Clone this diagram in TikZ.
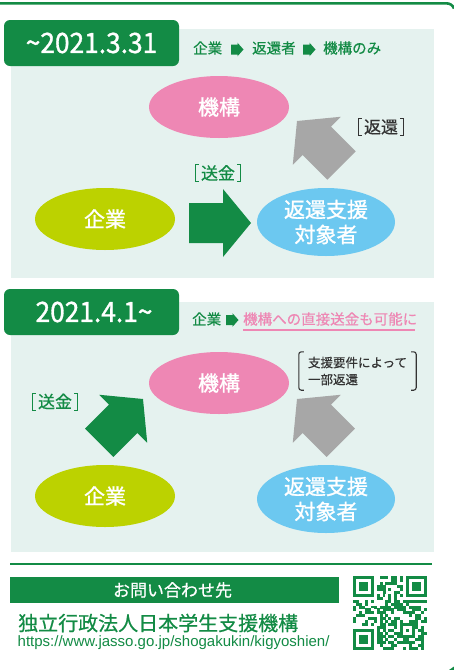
\documentclass[tikz,border=0pt]{standalone}
\usepackage{fontspec}
\setmainfont{Noto Sans CJK JP}
\newfontfamily\jpfont{Noto Sans CJK JP}
\newfontfamily\jpmed[FakeBold=1.2]{Noto Sans CJK JP}
\newfontfamily\jpsemi[FakeBold=0.5]{Noto Sans CJK JP}
\newfontfamily\urlfont{Liberation Sans}
\usetikzlibrary{shapes.geometric}
\definecolor{jgreen}{HTML}{138B45}
\definecolor{jpink}{HTML}{EE87B4}
\definecolor{jyel}{HTML}{BCD200}
\definecolor{jblue}{HTML}{6CC8F0}
\definecolor{jgray}{HTML}{A7A7A7}
\definecolor{jmint}{HTML}{E5F2EF}
\definecolor{jdark}{HTML}{333333}
\newcommand\blockarrow[4]{\fill[#1,shift={#2},rotate=#3] (0,0) -- (-28,-34) -- (-28,-20) -- (-#4,-20) -- (-#4,20) -- (-28,20) -- (-28,34) -- cycle;}
\newcommand\minarrow[1]{\fill[jgreen,shift={#1}] (0,-5) -- (6.5,-5) -- (6.5,-6.8) -- (12.5,0) -- (6.5,6.8) -- (6.5,5) -- (0,5) -- cycle;}
\begin{document}
\begin{tikzpicture}[x=1pt,y=-1pt,
  oval/.style={ellipse, fill=#1, text=white, inner sep=0pt, align=center,
    minimum width=140pt, minimum height=62pt, font=\jpmed\fontsize{21}{25}\selectfont},
  titlebox/.style={fill=jgreen, rounded corners=6pt},
  titletext/.style={text=white, inner sep=0pt, font=\jpmed\fontsize{28}{30}\selectfont},
  sub/.style={text=jgreen, inner sep=0pt, anchor=west, font=\jpsemi\fontsize{14.5}{16}\selectfont},
  brlabel/.style={inner xsep=5pt, inner ysep=0.5pt, font=\jpsemi\fontsize{17}{19}\selectfont},
  brk/.style={line width=0.8pt}
]
\useasboundingbox (0,0) rectangle (454,670);
\fill[white] (0,0) rectangle (454,670);
% frame lines
\draw[jgreen, line width=2.6pt] (0,3.3) -- (446,3.3) .. controls (450,3.3) and (452.5,5) .. (454,8.5);
\fill[jgreen] (449,670) -- (454,666.5) -- (454,670) -- cycle;

% ---------- panel 1 ----------
\fill[jmint] (11,29) rectangle (434,278);
\fill[titlebox] (4,20) rectangle (179,66);
\node[titletext] (d1) at (91.5,43) {\scalebox{0.94}[1]{\textasciitilde 2021.3.31}};
\node[sub] (s1a) at (193,48) {企業};
\minarrow{(231,49.5)}
\node[sub] (s1b) at (252,48) {返還者};
\minarrow{(303,49.5)}
\node[sub] (s1c) at (323,48) {機構のみ};

\node[oval=jpink] (k1) at (219,107) {機構};
\node[oval=jyel] (c1) at (105,219) {企業};
\node[oval=jblue, minimum width=138pt, minimum height=68pt] (r1) at (326,222) {返還支援\\対象者};

\blockarrow{jgreen}{(251,223)}{0}{62}
\blockarrow{jgray}{(297,121)}{135}{63}

\node[brlabel, text=jgreen] (l1) at (218,173) {送金};
\draw[brk, jgreen] ([xshift=3pt]l1.north west) -- (l1.north west) -- (l1.south west) -- ([xshift=3pt]l1.south west);
\draw[brk, jgreen] ([xshift=-3pt]l1.north east) -- (l1.north east) -- (l1.south east) -- ([xshift=-3pt]l1.south east);
\node[brlabel, text=jdark] (l2) at (381,127) {返還};
\draw[brk, jdark] ([xshift=3pt]l2.north west) -- (l2.north west) -- (l2.south west) -- ([xshift=3pt]l2.south west);
\draw[brk, jdark] ([xshift=-3pt]l2.north east) -- (l2.north east) -- (l2.south east) -- ([xshift=-3pt]l2.south east);

% ---------- panel 2 ----------
\fill[jmint] (11,302) rectangle (434,552);
\fill[titlebox] (4,289) rectangle (179,335);
\node[titletext] (d2) at (94,312) {\scalebox{0.94}[1]{2021.4.1\textasciitilde}};
\node[sub] (s2a) at (192,319) {企業};
\minarrow{(226,320)}
\node[sub, text=jpink] (s2b) at (243,319) {機構への直接送金も可能に};
\draw[jpink, line width=1.6pt] (243,330) -- (415,330);

\node[oval=jpink] (k2) at (219,383) {機構};
\node[oval=jyel] (c2) at (105,496) {企業};
\node[oval=jblue, minimum width=138pt, minimum height=68pt] (r2) at (326,499) {返還支援\\対象者};

\blockarrow{jgreen}{(143,399)}{45}{62}
\blockarrow{jgray}{(297,399)}{135}{62}

\node[brlabel, text=jgreen] (l3) at (55,401.5) {送金};
\draw[brk, jgreen] ([xshift=3pt]l3.north west) -- (l3.north west) -- (l3.south west) -- ([xshift=3pt]l3.south west);
\draw[brk, jgreen] ([xshift=-3pt]l3.north east) -- (l3.north east) -- (l3.south east) -- ([xshift=-3pt]l3.south east);
\node[text=jdark, inner xsep=9pt, inner ysep=0pt, minimum height=38pt, align=left,
      font=\jpsemi\fontsize{12.5}{17}\selectfont] (l4) at (357.5,371) {支援要件によって\\一部返還};
\draw[jdark, line width=1.1pt, rounded corners=2.5pt] ([xshift=5pt]l4.north west) -- (l4.north west) -- (l4.south west) -- ([xshift=5pt]l4.south west);
\draw[jdark, line width=1.1pt, rounded corners=2.5pt] ([xshift=-5pt]l4.north east) -- (l4.north east) -- (l4.south east) -- ([xshift=-5pt]l4.south east);

% ---------- contact ----------
\draw[jgreen, line width=1.4pt] (10,564) -- (432,564);
\fill[jgreen] (10,577) rectangle (339,603);
\node[text=white, inner sep=0pt, font=\jpsemi\fontsize{17}{19}\selectfont] (ct) at (172.5,590) {お問い合わせ先};
\node[text=jgreen, inner sep=0pt, anchor=west, font=\jpsemi\fontsize{20}{22}\selectfont] (org) at (18,623) {独立行政法人日本学生支援機構};
\node[text=jgreen, inner sep=0pt, anchor=west, font=\urlfont\fontsize{15}{17}\selectfont] (url) at (17.5,643) {https://www.jasso.go.jp/shogakukin/kigyoshien/};

% QR code
\def\qx{353}\def\qy{576}\def\qm{2.95}
\foreach \fx/\fy in {0/0,18/0,0/18}{
  \fill[jgreen] ({\qx+\fx*\qm},{\qy+\fy*\qm}) rectangle ++({7*\qm},{7*\qm});
  \fill[white] ({\qx+(\fx+1)*\qm},{\qy+(\fy+1)*\qm}) rectangle ++({5*\qm},{5*\qm});
  \fill[jgreen] ({\qx+(\fx+2)*\qm},{\qy+(\fy+2)*\qm}) rectangle ++({3*\qm},{3*\qm});
}
\fill[jgreen] ({\qx+16*\qm},{\qy+16*\qm}) rectangle ++({5*\qm},{5*\qm});
\fill[white] ({\qx+17*\qm},{\qy+17*\qm}) rectangle ++({3*\qm},{3*\qm});
\fill[jgreen] ({\qx+18*\qm},{\qy+18*\qm}) rectangle ++({\qm},{\qm});
\foreach \k in {8,10,...,16}{
  \fill[jgreen] ({\qx+\k*\qm},{\qy+6*\qm}) rectangle ++({\qm},{\qm});
  \fill[jgreen] ({\qx+6*\qm},{\qy+\k*\qm}) rectangle ++({\qm},{\qm});
}
\pgfmathsetseed{12}
\foreach \i in {0,...,24}{
  \foreach \j in {0,...,24}{
    \pgfmathtruncatemacro\qskipit{((\i<8)&&(\j<8))||((\i>16)&&(\j<8))||((\i<8)&&(\j>16))||((\i>15)&&(\i<21)&&(\j>15)&&(\j<21))||(\i==6)||(\j==6) ? 1 : 0}
    \pgfmathtruncatemacro\qon{rnd<0.5 ? 1 : 0}
    \ifnum\qskipit=0 \ifnum\qon=1 \fill[jgreen] ({\qx+\i*\qm},{\qy+\j*\qm}) rectangle ++({\qm+0.05},{\qm+0.05}); \fi\fi
  }
}
\end{tikzpicture}
\end{document}
